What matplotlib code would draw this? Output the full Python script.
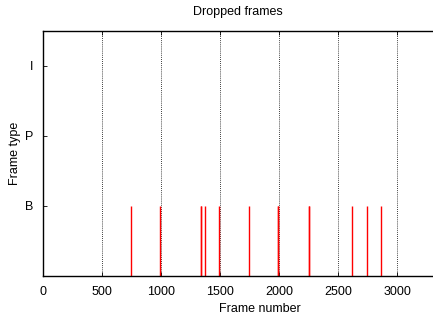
import matplotlib
matplotlib.use("Agg")
import matplotlib.pyplot as plt

plt.rcParams['font.family'] = ['Liberation Sans', 'DejaVu Sans']

dropped_frames = [745, 995, 1335, 1342, 1373, 1495, 1743, 1990, 1995, 2252, 2256, 2616, 2743, 2864]
frame_type_level = [1] * len(dropped_frames)  # B frames
ytick_labels = ['B', 'P', 'I']
xticks = [0, 500, 1000, 1500, 2000, 2500, 3000]

fig = plt.figure(figsize=(4.33, 3.16), dpi=100)
ax = fig.add_axes([43/433, 40/316, 1.0, 245/316])
# x scale: 0.118 px per frame -> full axes width 433 px
ax.set_xlim(0, 433 / 0.118)
ax.set_ylim(0, 3.5)

ax.vlines(dropped_frames, 0, frame_type_level, colors='#ff0000', linewidth=1.0)

for x in xticks[1:]:
    ax.axvline(x, color='black', linestyle=(0, (1, 1.5)), linewidth=0.6, zorder=0)

ax.set_xticks(xticks)
ax.set_yticks([1, 2, 3])
ax.set_yticklabels(ytick_labels)
ax.tick_params(direction='in', length=3, width=0.6, labelsize=9, top=True, right=False)
ax.tick_params(axis='x', pad=7)
ax.tick_params(axis='y', pad=7)
for s in ['left', 'bottom', 'top']:
    ax.spines[s].set_linewidth(1.0)
ax.spines['right'].set_visible(False)

ax.set_xlabel('Frame number', fontsize=9, labelpad=4)
ax.set_ylabel('Frame type', fontsize=9, labelpad=3)
fig.text((43 + 432) / 2 / 433, 1 - 12/316, 'Dropped frames', ha='center', va='center', fontsize=9)

fig.savefig('out.png', dpi=100)
